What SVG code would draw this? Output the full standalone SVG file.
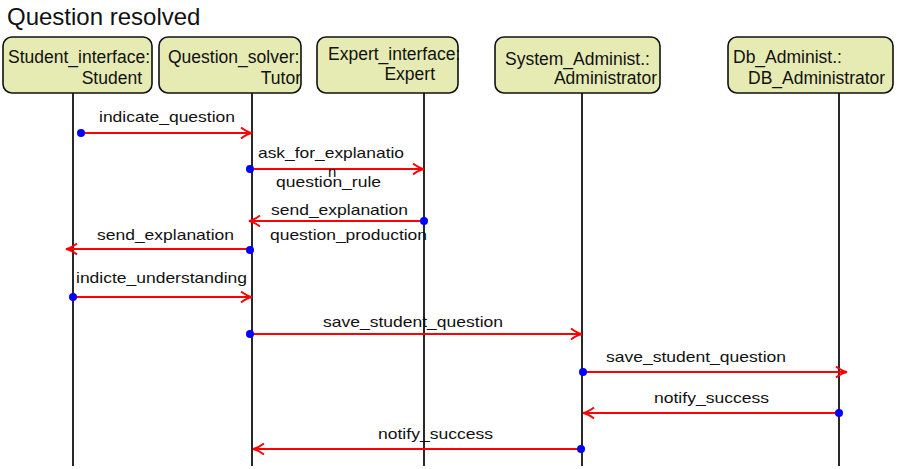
<svg xmlns="http://www.w3.org/2000/svg" width="897" height="469" viewBox="0 0 897 469">
  <style>
    text { font-family: "Liberation Sans", Arial, Helvetica, sans-serif; fill: #111; }
    .title { font-size: 24px; }
    .obj { fill: #e6ebb3; stroke: #111; stroke-width: 1.6; }
    .objtxt { font-size: 17.5px; }
    .end { text-anchor: end; }
    .life { stroke: #111; stroke-width: 1.8; fill: none; }
    .msg { stroke: #ff0000; stroke-width: 2; fill: none; marker-end: url(#head); }
    .dot { fill: #0000ff; }
    .lbl { font-size: 15px; }
  </style>
  <defs>
    <marker id="head" markerUnits="userSpaceOnUse" markerWidth="14" markerHeight="14" viewBox="-12 -7 14 14" refX="0" refY="0" orient="auto">
      <path d="M-11,-5.5 Q-5,-1 0,0 Q-5,1 -11,5.5" fill="none" stroke="#ff0000" stroke-width="2"/>
    </marker>
  </defs>

  <rect width="897" height="469" fill="#ffffff"/>
  <text class="title" x="7" y="25">Question resolved</text>

  <!-- lifelines -->
  <g id="lifelines">
    <line class="life" x1="73" y1="93" x2="73" y2="466"/>
    <line class="life" x1="252" y1="93" x2="252" y2="466"/>
    <line class="life" x1="424" y1="93" x2="424" y2="466"/>
    <line class="life" x1="582" y1="93" x2="582" y2="466"/>
    <line class="life" x1="839" y1="93" x2="839" y2="466"/>
  </g>

  <!-- participants -->
  <g id="student">
    <rect class="obj" x="3" y="37" width="149" height="56" rx="9"/>
    <text class="objtxt" x="8" y="63">Student_interface:</text>
    <text class="objtxt end" x="142" y="84">Student</text>
  </g>
  <g id="tutor">
    <rect class="obj" x="159" y="37" width="142" height="56" rx="9"/>
    <text class="objtxt" x="168" y="63">Question_solver:</text>
    <text class="objtxt end" x="301" y="84">Tutor</text>
  </g>
  <g id="expert">
    <rect class="obj" x="317" y="37" width="141" height="56" rx="9"/>
    <text class="objtxt" x="328" y="60">Expert_interface:</text>
    <text class="objtxt end" x="435" y="80">Expert</text>
  </g>
  <g id="administrator">
    <rect class="obj" x="495" y="37" width="165" height="56" rx="9"/>
    <text class="objtxt" x="505" y="65">System_Administ.:</text>
    <text class="objtxt end" x="657" y="84">Administrator</text>
  </g>
  <g id="db_administrator">
    <rect class="obj" x="728" y="37" width="165" height="56" rx="9"/>
    <text class="objtxt" x="733" y="63">Db_Administ.:</text>
    <text class="objtxt" x="748" y="84">DB_Administrator</text>
  </g>

  <!-- messages -->
  <g id="connectors">
    <line class="msg" x1="81" y1="133" x2="252" y2="133"/>
    <line class="msg" x1="250" y1="169" x2="424" y2="169"/>
    <line class="msg" x1="424" y1="221" x2="249" y2="221"/>
    <line class="msg" x1="250" y1="249" x2="66" y2="249"/>
    <line class="msg" x1="73" y1="297" x2="252" y2="297"/>
    <line class="msg" x1="250" y1="334" x2="582" y2="334"/>
    <line class="msg" x1="583" y1="372" x2="847" y2="372"/>
    <line class="msg" x1="839" y1="413" x2="583" y2="413"/>
    <line class="msg" x1="581" y1="449" x2="253" y2="449"/>

    <circle class="dot" cx="81" cy="133" r="4"/>
    <circle class="dot" cx="250" cy="169" r="4"/>
    <circle class="dot" cx="424" cy="221" r="4"/>
    <circle class="dot" cx="250" cy="250" r="4"/>
    <circle class="dot" cx="73" cy="297" r="4"/>
    <circle class="dot" cx="250" cy="334" r="4"/>
    <circle class="dot" cx="583" cy="372" r="4"/>
    <circle class="dot" cx="839" cy="413" r="4"/>
    <circle class="dot" cx="581" cy="449" r="4"/>
  </g>

  <!-- message labels -->
  <g id="labels">
    <text class="lbl" x="99" y="122" textLength="136" lengthAdjust="spacingAndGlyphs">indicate_question</text>
    <text class="lbl" x="258" y="158" textLength="146" lengthAdjust="spacingAndGlyphs">ask_for_explanatio</text>
    <text class="lbl" x="328" y="177">n</text>
    <text class="lbl" x="276" y="187" textLength="105" lengthAdjust="spacingAndGlyphs">question_rule</text>
    <text class="lbl" x="271" y="215" textLength="137" lengthAdjust="spacingAndGlyphs">send_explanation</text>
    <text class="lbl" x="270" y="240" textLength="157" lengthAdjust="spacingAndGlyphs">question_production</text>
    <text class="lbl" x="97" y="240" textLength="137" lengthAdjust="spacingAndGlyphs">send_explanation</text>
    <text class="lbl" x="76" y="283" textLength="171" lengthAdjust="spacingAndGlyphs">indicte_understanding</text>
    <text class="lbl" x="323" y="327" textLength="180" lengthAdjust="spacingAndGlyphs">save_student_question</text>
    <text class="lbl" x="606" y="362" textLength="180" lengthAdjust="spacingAndGlyphs">save_student_question</text>
    <text class="lbl" x="654" y="403" textLength="115" lengthAdjust="spacingAndGlyphs">notify_success</text>
    <text class="lbl" x="378" y="439" textLength="115" lengthAdjust="spacingAndGlyphs">notify_success</text>
  </g>
</svg>
